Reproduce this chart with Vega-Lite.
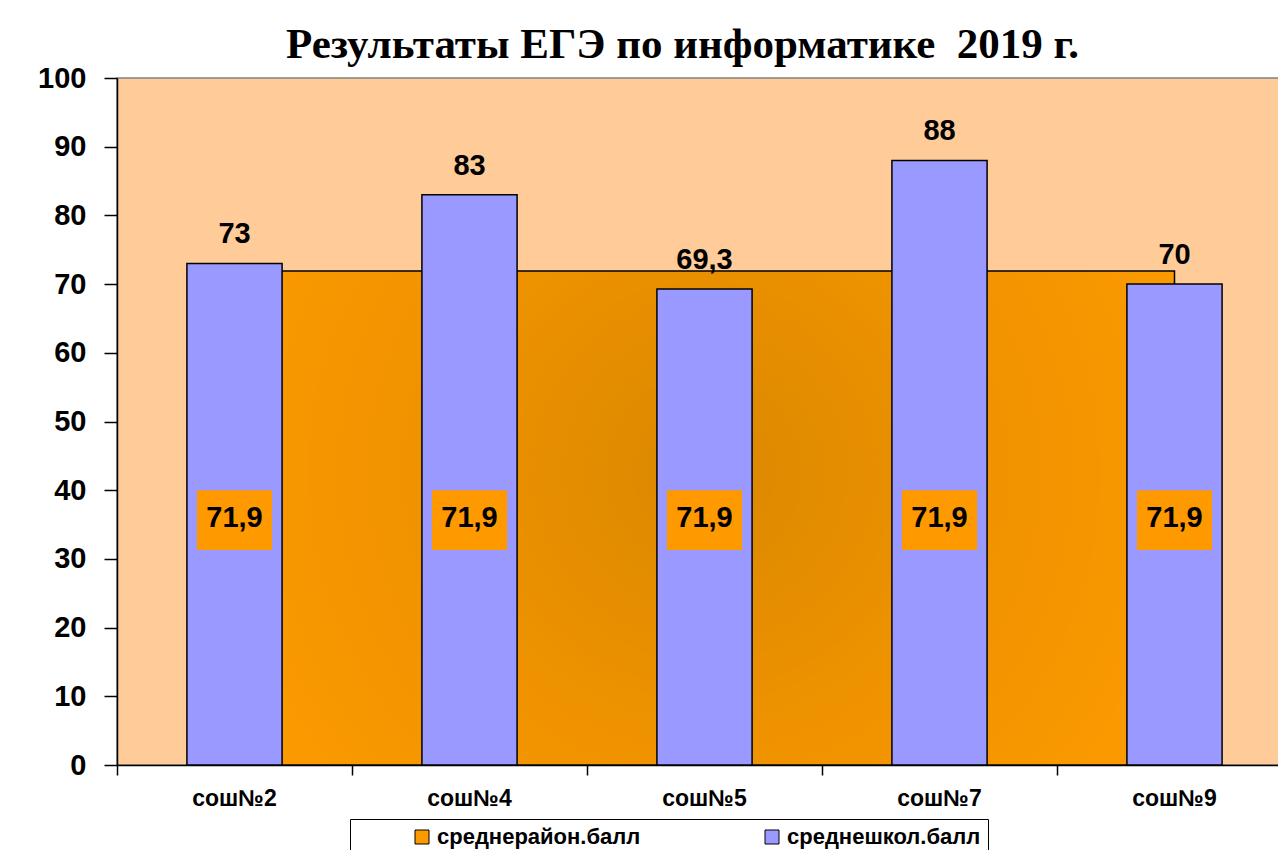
{
  "$schema": "https://vega.github.io/schema/vega-lite/v6.json",
  "width": 1175,
  "height": 687,
  "autosize": {"type": "none"},
  "padding": {"left": 117, "top": 78, "right": 0, "bottom": 85},
  "background": "white",
  "title": {
    "text": "Результаты ЕГЭ по информатике \u00a02019 г.",
    "font": "Liberation Serif",
    "fontSize": 43,
    "fontWeight": "bold",
    "color": "black",
    "anchor": "middle",
    "frame": "group",
    "dx": -22,
    "offset": -3
  },
  "config": {
    "locale": {"number": {"decimal": ",", "thousands": " ", "grouping": [3], "currency": ["", " ₽"]}},
    "view": {"fill": "#FFCC99", "stroke": "#808080", "strokeWidth": 1.5},
    "axis": {"domainColor": "black", "tickColor": "black", "domainWidth": 1.5, "tickWidth": 1.5, "labelColor": "black", "labelFont": "Liberation Sans", "labelFontWeight": "bold", "grid": false, "title": null}
  },
  "data": {
    "values": [
      {"school": "сош№2", "series": "среднерайон.балл", "value": 71.9},
      {"school": "сош№4", "series": "среднерайон.балл", "value": 71.9},
      {"school": "сош№5", "series": "среднерайон.балл", "value": 71.9},
      {"school": "сош№7", "series": "среднерайон.балл", "value": 71.9},
      {"school": "сош№9", "series": "среднерайон.балл", "value": 71.9},
      {"school": "сош№2", "series": "среднешкол.балл", "value": 73},
      {"school": "сош№4", "series": "среднешкол.балл", "value": 83},
      {"school": "сош№5", "series": "среднешкол.балл", "value": 69.3},
      {"school": "сош№7", "series": "среднешкол.балл", "value": 88},
      {"school": "сош№9", "series": "среднешкол.балл", "value": 70}
    ]
  },
  "encoding": {
    "x": {
      "field": "school", "type": "nominal", "sort": null,
      "scale": {"paddingInner": 0, "paddingOuter": 0},
      "axis": {"bandPosition": 0, "labelAngle": 0, "labelFontSize": 23, "tickSize": 10, "labelPadding": 12, "labelAlign": "center"}
    }
  },
  "layer": [
    {
      "transform": [{"filter": "datum.series === 'среднерайон.балл'"}],
      "mark": {
        "type": "area",
        "stroke": "black",
        "strokeWidth": 1.5,
        "fill": {
          "gradient": "radial",
          "x1": 0.5, "y1": 0.45, "r1": 0,
          "x2": 0.5, "y2": 0.45, "r2": 0.62,
          "stops": [
            {"offset": 0, "color": "#DA8800"},
            {"offset": 0.5, "color": "#F09300"},
            {"offset": 1, "color": "#FF9C00"}
          ]
        }
      },
      "encoding": {
        "y": {"field": "value", "type": "quantitative", "scale": {"domain": [0, 100], "nice": false},
          "axis": {"values": [0, 10, 20, 30, 40, 50, 60, 70, 80, 90, 100], "labelFontSize": 29, "tickSize": 13, "labelPadding": 18}}
      }
    },
    {
      "transform": [{"filter": "datum.series === 'среднешкол.балл'"}],
      "mark": {"type": "bar", "width": {"band": 0.405}, "stroke": "black", "strokeWidth": 1.5},
      "encoding": {
        "y": {"field": "value", "type": "quantitative"},
        "color": {
          "field": "series", "type": "nominal",
          "scale": {"domain": ["среднерайон.балл", "среднешкол.балл"], "range": ["#FF9900", "#9999FF"]},
          "legend": {
            "title": null,
            "orient": "none",
            "legendX": 233,
            "legendY": 741,
            "direction": "horizontal",
            "columns": 2,
            "columnPadding": 66,
            "symbolOffset": 54,
            "symbolType": "square",
            "symbolSize": 196,
            "symbolStrokeColor": "black",
            "symbolStrokeWidth": 1,
            "labelFont": "Liberation Sans",
            "labelFontSize": 22,
            "labelFontWeight": "bold",
            "labelColor": "black",
            "labelLimit": 400,
            "fillColor": "white",
            "strokeColor": "black",
            "padding": 7
          }
        }
      }
    },
    {
      "transform": [{"filter": "datum.series === 'среднешкол.балл'"}],
      "mark": {"type": "text", "font": "Liberation Sans", "fontWeight": "bold", "fontSize": 29, "baseline": "alphabetic", "dy": -20, "color": "black"},
      "encoding": {
        "y": {"field": "value", "type": "quantitative"},
        "text": {"field": "value", "type": "quantitative", "format": ".1~f"}
      }
    },
    {
      "transform": [{"filter": "datum.series === 'среднерайон.балл'"}],
      "mark": {"type": "bar", "width": {"band": 0.32}, "color": "#FF9900"},
      "encoding": {
        "y": {"datum": 40},
        "y2": {"datum": 31.3}
      }
    },
    {
      "transform": [{"filter": "datum.series === 'среднерайон.балл'"}],
      "mark": {"type": "text", "font": "Liberation Sans", "fontWeight": "bold", "fontSize": 29, "baseline": "middle", "color": "black"},
      "encoding": {
        "y": {"datum": 35.95},
        "text": {"field": "value", "type": "quantitative", "format": ".1~f"}
      }
    }
  ]
}
